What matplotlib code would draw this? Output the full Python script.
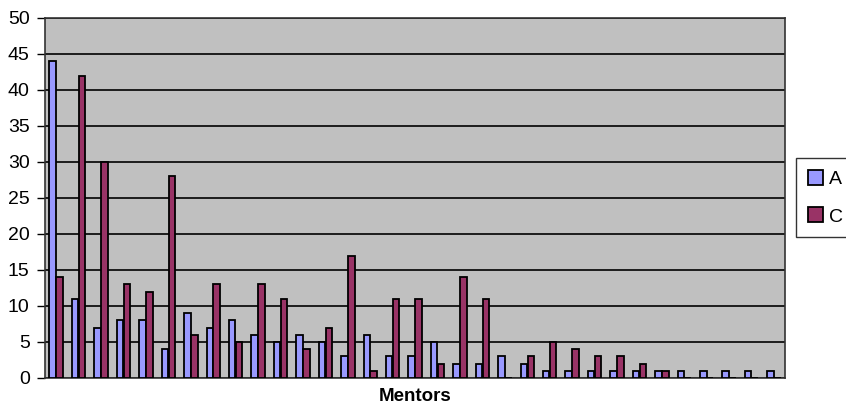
import numpy as np
import matplotlib
matplotlib.use("Agg")
import matplotlib.pyplot as plt

plt.rcParams['font.family'] = ['Liberation Sans', 'DejaVu Sans']

# === Datos ===
mentors = list(range(1, 34))
serie_a = [44, 11, 7, 8, 8, 4, 9, 7, 8, 6, 5, 6, 5, 3, 6, 3, 3, 5, 2, 2,
           3, 2, 1, 1, 1, 1, 1, 1, 1, 1, 1, 1, 1]
serie_c = [14, 42, 30, 13, 12, 28, 6, 13, 5, 13, 11, 4, 7, 17, 1, 11, 11, 2, 14, 11,
           0, 3, 5, 4, 3, 3, 2, 1, 0, 0, 0, 0, 0]

x = np.arange(len(mentors))
w = 0.29

fig = plt.figure(figsize=(8.46, 4.05), dpi=100)
ax = fig.add_axes([0.0532, 0.0667, 0.875, 0.889])
ax.set_facecolor('#C0C0C0')

ax.bar(x - w / 2 - 0.01, serie_a, w, color='#9999FF', edgecolor='black', linewidth=1.3, label='A', zorder=3)
ax.bar(x + w / 2 + 0.01, serie_c, w, color='#993366', edgecolor='black', linewidth=1.3, label='C', zorder=3)

ax.set_xlim(-0.5, len(mentors) - 0.5)
ax.set_ylim(0, 50)
ax.set_yticks(range(0, 51, 5))
ax.yaxis.grid(True, color='black', linewidth=1.2, zorder=0)
ax.set_xticks([])
ax.tick_params(axis='y', labelsize=14, length=6, width=1, pad=5)
for s in ax.spines.values():
    s.set_linewidth(1.2)
    s.set_color('#333333')

ax.set_xlabel('Mentors', fontsize=13.5, fontweight='bold', labelpad=7)

# leyenda pegada al borde derecho
leg = fig.legend(loc='upper left', bbox_to_anchor=(796 / 846, (405 - 158) / 405),
                 bbox_transform=fig.transFigure, borderaxespad=0, fontsize=14,
                 frameon=True, fancybox=False, edgecolor='black',
                 handlelength=0.8, handleheight=0.8, handletextpad=0.3,
                 borderpad=0.6, labelspacing=1.0)
leg.get_frame().set_linewidth(1)

fig.savefig('out.png', dpi=100)
